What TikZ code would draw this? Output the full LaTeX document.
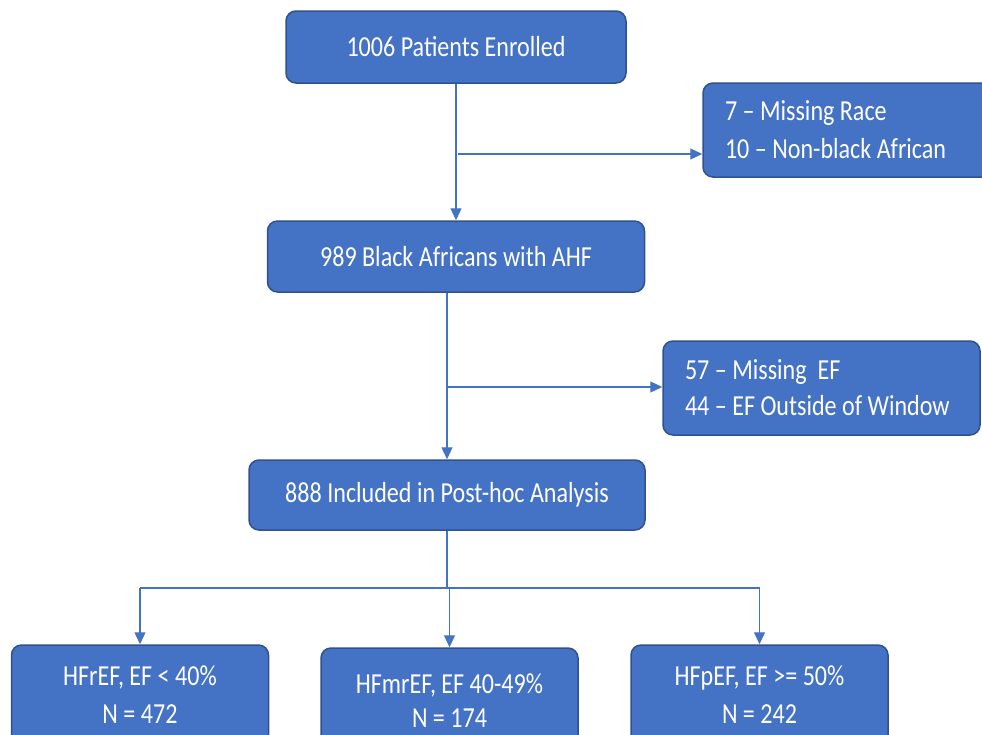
\documentclass[tikz,border=0pt]{standalone}
\usepackage{fontspec}
\setmainfont{Carlito}[FakeStretch=0.83]
\usetikzlibrary{arrows.meta}
\definecolor{boxblue}{HTML}{4472C4}
\definecolor{boxedge}{HTML}{2F528F}

\begin{document}
\begin{tikzpicture}[x=1pt, y=-1pt, >={Triangle[length=12pt,width=11pt]},
    font=\fontsize{29}{38}\selectfont,
    box/.style={draw=boxedge, line width=1.5pt, fill=boxblue, text=white,
                rounded corners=10pt, align=center},
    side/.style={box, align=flush left, inner xsep=22pt, minimum height=94pt},
    leaf/.style={box, minimum width=257pt, minimum height=100pt},
    arr/.style={->, boxblue, line width=1.2pt},
    link/.style={boxblue, line width=1.2pt}]

  \useasboundingbox (0,0) rectangle (982,734);
  \clip (0,0) rectangle (982,734);

  %% Main column
  \node[box, minimum width=340pt, minimum height=72pt] (enrol) at (456,47)
    {1006 Patients Enrolled};
  \node[box, minimum width=377pt, minimum height=71pt] (black) at (456,256.5)
    {989 Black Africans with AHF};
  \node[box, minimum width=396pt, minimum height=70pt] (incl) at (447,495)
    {888 Included in Post-hoc Analysis};

  %% Exclusions
  \node[side, text width=256pt] (race) at (853,130)
    {7 -- Missing Race\\10 -- Non-black African};
  \node[side, text width=273pt] (ef) at (821.5,388)
    {57 -- Missing\ \ EF\\[-2pt]44 -- EF Outside of Window};

  %% HF groups
  \node[leaf] (rEF)  at (140,695)   {HFrEF, EF < 40\%\\N = 472};
  \node[leaf, minimum height=106pt] (mrEF) at (449.5,701)
    {HFmrEF, EF 40-49\%\\[-4pt]N = 174};
  \node[leaf] (pEF)  at (759.5,695) {HFpEF, EF >= 50\%\\N = 242};

  %% Connectors
  \draw[arr] (enrol.south) -- (black.north);
  \coordinate (j1) at (458,154);
  \draw[arr] (j1) -- (j1 -| race.west);

  \draw[arr] (incl.north |- black.south) -- (incl.north);
  \coordinate (j2) at (447,387);
  \draw[arr] (j2) -- (j2 -| ef.west);

  \coordinate (split) at (447,588);
  \draw[link] (incl.south) -- (split);
  \draw[link] (rEF.north |- split) -- (pEF.north |- split);
  \draw[arr] (rEF.north |- split) -- (rEF.north);
  \draw[arr] (mrEF.north |- split) -- (mrEF.north);
  \draw[arr] (pEF.north |- split) -- (pEF.north);
\end{tikzpicture}
\end{document}
